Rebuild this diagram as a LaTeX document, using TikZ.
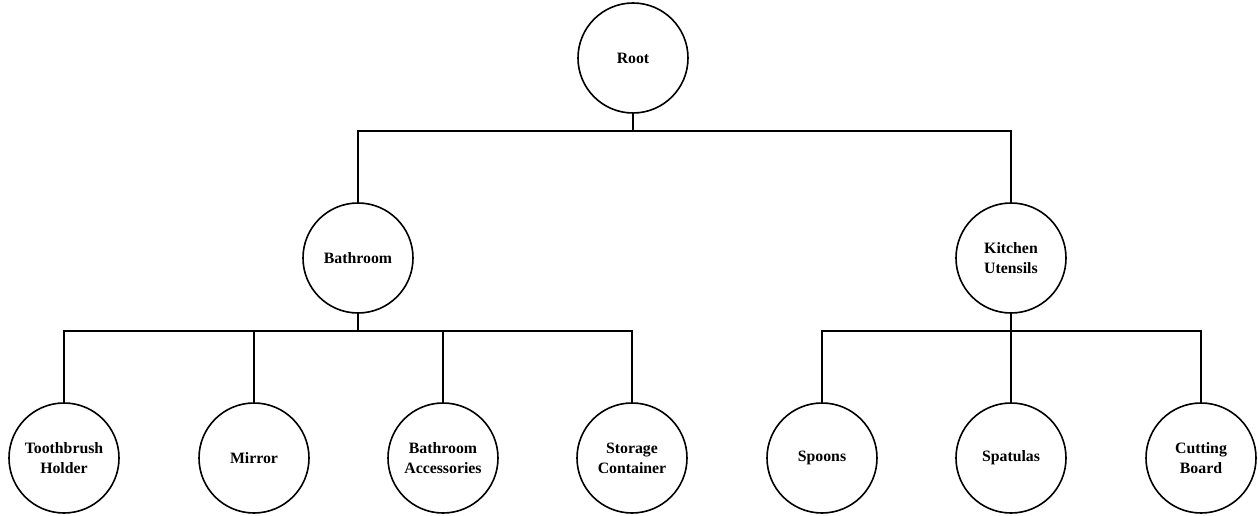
\documentclass[tikz,border=0pt]{standalone}
\usepackage{fontspec}
\setmainfont{Liberation Serif}
\usepackage{tikz}

\begin{document}
\begin{tikzpicture}[x=1pt, y=-1pt, line width=1.6pt,
    item/.style={circle, draw, minimum size=110pt, inner sep=0pt, align=center,
                 font=\fontsize{15.8}{20}\selectfont\bfseries}]
            \useasboundingbox (0,0) rectangle (1258,516);

            % Levels
            \node[item] (root) at (633,58) {Root};
            \node[item] (bath) at (358,258) {Bathroom};
            \node[item] (kitchen) at (1011,258) {Kitchen\\Utensils};

            % Leaves
            \node[item] (holder) at (64,458) {Toothbrush\\Holder};
            \node[item] (mirror) at (254,458) {Mirror};
            \node[item] (access) at (443,458) {Bathroom\\Accessories};
            \node[item] (storage) at (632,458) {Storage\\Container};
            \node[item] (spoons) at (822,458) {Spoons\vphantom{M}};
            \node[item] (spatulas) at (1011,458) {Spatulas};
            \node[item] (board) at (1201,458) {Cutting\\Board};

            % Junctions
            \coordinate (rootJ) at (633,131);
            \coordinate (bathJ) at (358,331);
            \coordinate (kitchenJ) at (1011,331);

            % Connectors
            \draw (root) -- (rootJ);
            \draw (rootJ) -| (bath);
            \draw (rootJ) -| (kitchen);
            \draw (bath) -- (bathJ);
            \foreach \n in {holder, mirror, access, storage}
                \draw (bathJ) -| (\n);
            \draw (kitchen) -- (kitchenJ);
            \foreach \n in {spoons, spatulas, board}
                \draw (kitchenJ) -| (\n);
        \end{tikzpicture}
\end{document}
